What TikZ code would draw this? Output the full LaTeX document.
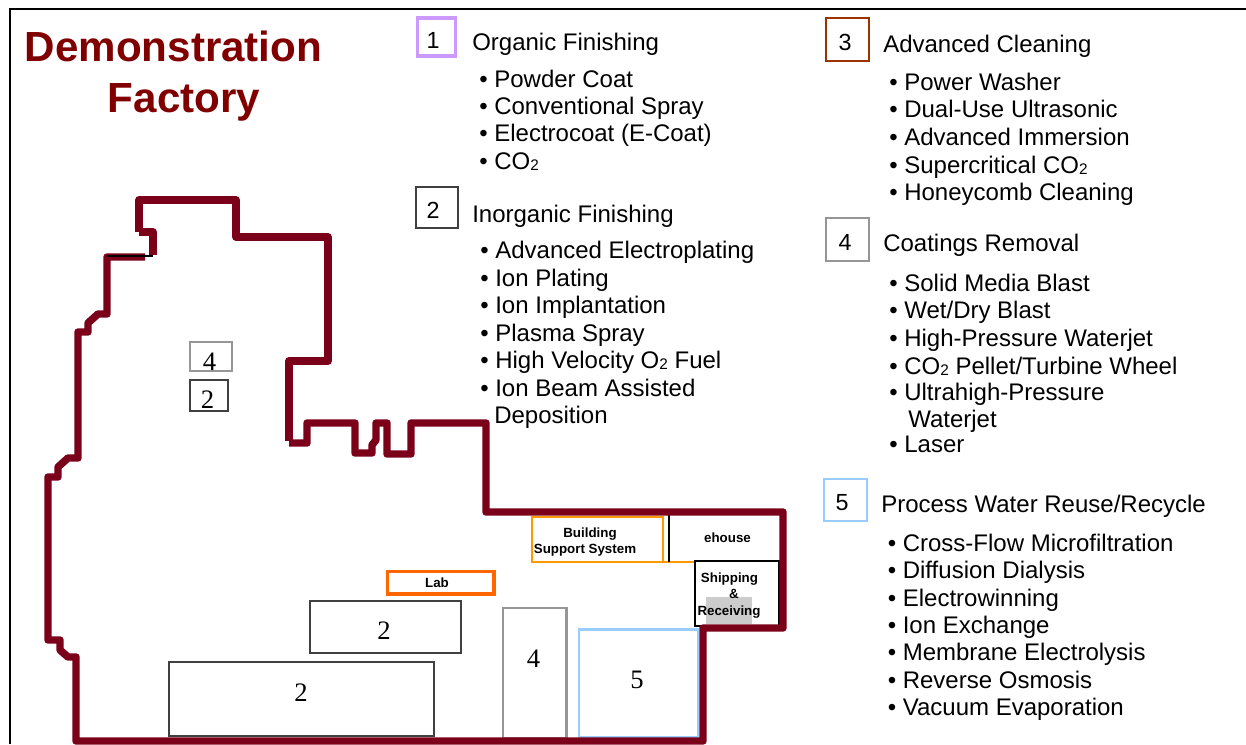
\documentclass[tikz,border=0pt]{standalone}
\usepackage{fontspec}
\setmainfont{Liberation Sans}
\newfontfamily\numfont{Liberation Serif}
\definecolor{wall}{HTML}{7B0019}
\definecolor{titlered}{HTML}{800000}
\definecolor{lilac}{HTML}{CC99FF}
\definecolor{rust}{HTML}{993300}
\definecolor{midgrey}{HTML}{969696}
\definecolor{darkgrey}{HTML}{404040}
\definecolor{skyblue}{HTML}{99CCFF}
\definecolor{amber}{HTML}{FF9900}
\definecolor{vivid}{HTML}{FF6600}
\tikzset{
  x=0.75pt,y=-0.75pt,
  wallline/.style={draw=wall,line width=5.6pt,line join=round},
  boxshape/.style={draw,inner sep=0pt,outer sep=0pt,anchor=north west},
  legnum/.style={anchor=base,inner sep=0pt,font=\fontsize{17.5}{20}\selectfont},
  zonenum/.style={anchor=base,inner sep=0pt,font=\fontsize{20}{22}\selectfont\numfont},
  bodytxt/.style={anchor=base west,inner sep=0pt,font=\fontsize{18}{20}\selectfont},
  roomtxt/.style={anchor=base,inner sep=0pt,font=\fontsize{10}{12}\selectfont\bfseries},
  titletxt/.style={anchor=base,inner sep=0pt,text=titlered,font=\fontsize{31.6}{38}\selectfont\bfseries}
}
% name, colour, x0, y0, x1, y1, line width
\newcommand{\boxat}[7]{\node[boxshape,draw=#2,line width=#7,minimum width={(#5-#3)*0.75pt},minimum height={(#6-#4)*0.75pt}] (#1) at (#3,#4) {};}
\newcommand{\itm}[4]{\node[bodytxt] (#1) at (#2,#3) {• #4};}
\newcommand{\subtwo}{\raisebox{-1pt}{\fontsize{11.5}{12}\selectfont 2}}
\begin{document}
\begin{tikzpicture}
\useasboundingbox (0,0) rectangle (1246,744);
\fill[white] (0,0) rectangle (1246,744);
\coordinate (fa) at (10.3,744); \coordinate (fb) at (10.3,9.3); \coordinate (fc) at (1246,9.3);
\draw[black,line width=1.5pt] (fa) -- (fb) -- (fc);
\node[titletxt] (title1) at (173.5,61) {Demonstration};
\node[titletxt] (title2) at (184,112) {Factory};
% legend left
\boxat{k1}{lilac}{417.5}{18}{455.5}{56}{2.3pt}
\node[legnum] (n1) at (433,48) {1};
\node[bodytxt] (h1) at (472,50) {Organic Finishing};
\itm{a1}{479}{87}{Powder Coat}
\itm{a2}{479}{114}{Conventional Spray}
\itm{a3}{479}{141.5}{Electrocoat (E-Coat)}
\itm{a4}{479}{169}{CO\subtwo}
\boxat{k2}{darkgrey}{415.5}{186.5}{457.5}{227.5}{1.5pt}
\node[legnum] (n2) at (433,218) {2};
\node[bodytxt] (h2) at (472,222) {Inorganic Finishing};
\itm{b1}{480}{258}{Advanced Electroplating}
\itm{b2}{480}{286}{Ion Plating}
\itm{b3}{480}{313}{Ion Implantation}
\itm{b4}{480}{341}{Plasma Spray}
\itm{b5}{480}{368}{High Velocity O\subtwo{} Fuel}
\itm{b6}{480}{396}{Ion Beam Assisted}
\node[bodytxt] (b7) at (494,423) {Deposition};
% legend right
\boxat{k3}{rust}{826}{18}{868.5}{60.5}{1.5pt}
\node[legnum] (n3) at (845,50) {3};
\node[bodytxt] (h3) at (883,52) {Advanced Cleaning};
\itm{c1}{889}{90}{Power Washer}
\itm{c2}{889}{117}{Dual-Use Ultrasonic}
\itm{c3}{889}{145}{Advanced Immersion}
\itm{c4}{889}{173}{Supercritical CO\subtwo}
\itm{c5}{889}{200}{Honeycomb Cleaning}
\boxat{k4}{midgrey}{826}{218}{868.5}{260.5}{1.5pt}
\node[legnum] (n4) at (845,250) {4};
\node[bodytxt] (h4) at (883,251) {Coatings Removal};
\itm{d1}{889}{291}{Solid Media Blast}
\itm{d2}{889}{318}{Wet/Dry Blast}
\itm{d3}{889}{346}{High-Pressure Waterjet}
\itm{d4}{889}{374}{CO\subtwo{} Pellet/Turbine Wheel}
\itm{d5}{889}{400}{Ultrahigh-Pressure}
\node[bodytxt] (d6) at (908,427) {Waterjet};
\itm{d7}{889}{452}{Laser}
\boxat{k5}{skyblue}{824}{479}{866.5}{520.5}{1.5pt}
\node[legnum] (n5) at (842,510) {5};
\node[bodytxt] (h5) at (881,512) {Process Water Reuse/Recycle};
\itm{e1}{887.5}{551}{Cross-Flow Microfiltration}
\itm{e2}{887.5}{578}{Diffusion Dialysis}
\itm{e3}{887.5}{606}{Electrowinning}
\itm{e4}{887.5}{633}{Ion Exchange}
\itm{e5}{887.5}{660}{Membrane Electrolysis}
\itm{e6}{887.5}{688}{Reverse Osmosis}
\itm{e7}{887.5}{715}{Vacuum Evaporation}
% interior rooms
\fill[black!20] (706,597) rectangle (752,624);
\coordinate (amba) at (663,562); \coordinate (ambb) at (695,562);
\draw[amber,line width=1.5pt] (amba) -- (ambb);
\boxat{bss}{amber}{531.5}{517}{663}{562}{1.5pt}
\node[roomtxt] (bss1) at (590,537) {Building};
\node[roomtxt] (bss2) at (585,553) {Support System};
\coordinate (wha) at (669,512); \coordinate (whb) at (669,562);
\draw[black,line width=1.5pt] (wha) -- (whb);
\node[roomtxt] (wh) at (727.5,542) {ehouse};
\boxat{sr}{black}{694.5}{560.5}{779}{626}{1.5pt}
\node[roomtxt] (sr1) at (729.5,582) {Shipping};
\node[roomtxt] (sr2) at (734,598) {\&};
\node[roomtxt] (sr3) at (729,615) {Receiving};
\boxat{lab}{vivid}{387.5}{571.5}{494}{594}{2.6pt}
\node[roomtxt] (lab1) at (437,587) {Lab};
% zones
\boxat{z4a}{midgrey}{189.5}{341.5}{232}{371}{1.5pt}
\node[zonenum] (t4a) at (209.5,370) {4};
\boxat{z2a}{darkgrey}{189.5}{379.5}{228}{410.5}{1.5pt}
\node[zonenum] (t2a) at (207.5,408) {2};
\boxat{z2b}{darkgrey}{310}{601}{461}{652.5}{1.5pt}
\node[zonenum] (t2b) at (384,639) {2};
\boxat{z2c}{darkgrey}{169}{662}{434}{736}{1.5pt}
\node[zonenum] (t2c) at (301,701) {2};
\boxat{z4b}{midgrey}{503}{608}{566.5}{738}{1.6pt}
\node[zonenum] (t4b) at (533.5,667) {4};
\boxat{z5}{skyblue}{579}{629.5}{698}{737.5}{1.6pt}
\node[zonenum] (t5) at (637,688) {5};
% outer wall
\draw[wallline] (139,232) -- (139,200) -- (236,200) -- (236,237) -- (328,237) -- (328,361) -- (289,361) -- (289,441);
\draw[wallline] (289,443) -- (307,443) -- (307,423) -- (355,423) -- (355,453) -- (372,453) -- (372,445) -- (376,440) -- (376,423) -- (387,423) -- (387,454) -- (411,454) -- (411,423) -- (486,423) -- (486,512) -- (783,512) -- (783,628) -- (703,628) -- (703,741) -- (76,741) -- (76,657) -- (68,657) -- (60,650) -- (60,640) -- (48,640) -- (48,477) -- (58,477) -- (58,467) -- (68,458) -- (78,458) -- (78,332) -- (88,332) -- (88,323) -- (98,314) -- (107,314) -- (107,257) -- (145,257);
\draw[wallline] (139,232) -- (153,232) -- (153,255);
\coordinate (bla) at (107,256); \coordinate (blb) at (153,256);
\draw[black,line width=0.8pt] (bla) -- (blb);
\end{tikzpicture}
\end{document}
